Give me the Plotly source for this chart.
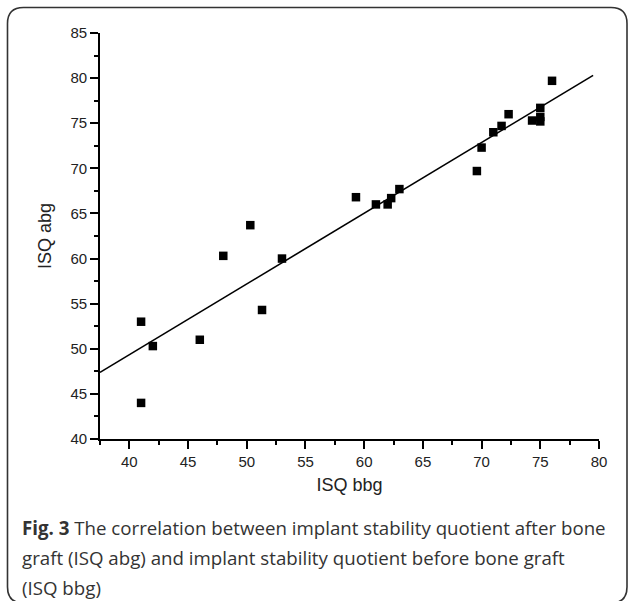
import numpy as np
import plotly.graph_objects as go

# ---- data ----
isq_bbg = [41, 41, 42, 46, 48, 50.3, 51.3, 53, 59.3, 61, 62, 62.3, 63,
           69.6, 70, 71, 71.7, 72.3, 74.3, 75, 75, 75, 76]
isq_abg = [44, 53, 50.3, 51, 60.3, 63.7, 54.3, 60, 66.8, 66.0, 66.0, 66.7, 67.7,
           69.7, 72.3, 74, 74.7, 76, 75.3, 75.2, 75.7, 76.7, 79.7]
fit_x_range = [37.5, 79.5]
x_ticks = [40, 45, 50, 55, 60, 65, 70, 75, 80]
y_ticks = [40, 45, 50, 55, 60, 65, 70, 75, 80, 85]
caption_lines = [
    "<b>Fig. 3</b> The correlation between implant stability quotient after bone",
    "graft (ISQ abg) and implant stability quotient before bone graft",
    "(ISQ bbg)",
]

# linear regression from the data
slope, intercept = np.polyfit(isq_bbg, isq_abg, 1)
fx = np.array(fit_x_range)
fy = intercept + slope * fx

W, H = 629, 601
L, R, T, B = 100, 30, 33, 162
pw, ph = W - L - R, H - T - B


def px_x(p):
    return (p - L) / pw


def px_y(p):
    return (H - B - p) / ph


fig = go.Figure()
fig.add_trace(go.Scatter(x=fx, y=fy, mode="lines",
                         line=dict(color="black", width=1.6),
                         showlegend=False, hoverinfo="skip"))
fig.add_trace(go.Scatter(x=isq_bbg, y=isq_abg, mode="markers",
                         marker=dict(symbol="square", size=8.5, color="black",
                                     line=dict(width=0)),
                         showlegend=False))

tickfont = dict(family="Liberation Sans, Arial, sans-serif", size=15, color="#222")
axis_common = dict(showgrid=False, zeroline=False, showline=True,
                   linecolor="black", linewidth=1.6, ticks="outside",
                   ticklen=8, tickwidth=1.5, tickcolor="black",
                   tickfont=tickfont, mirror=False)

fig.update_xaxes(range=[37.5, 80], tickvals=x_ticks, **axis_common,
                 minor=dict(ticks="outside", ticklen=4, tickwidth=1.5,
                            tickcolor="black", dtick=2.5, tick0=0),
                 title=dict(text="ISQ bbg",
                            font=dict(family="Liberation Sans, Arial, sans-serif",
                                      size=18, color="#222"),
                            standoff=10))
fig.update_yaxes(range=[40, 85], tickvals=y_ticks, **axis_common,
                 minor=dict(ticks="outside", ticklen=4, tickwidth=1.5,
                            tickcolor="black", dtick=2.5, tick0=0),
                 title=dict(text="ISQ abg",
                            font=dict(family="Liberation Sans, Arial, sans-serif",
                                      size=18, color="#222"),
                            standoff=14))

# rounded outer frame
x0, x1 = px_x(7.5), px_x(627)
y0, y1 = px_y(603), px_y(7.5)
rx, ry = 16 / pw, 16 / ph
path = (f"M {x0+rx},{y1} L {x1-rx},{y1} Q {x1},{y1} {x1},{y1-ry} "
        f"L {x1},{y0+ry} Q {x1},{y0} {x1-rx},{y0} "
        f"L {x0+rx},{y0} Q {x0},{y0} {x0},{y0+ry} "
        f"L {x0},{y1-ry} Q {x0},{y1} {x0+rx},{y1} Z")
fig.add_shape(type="path", path=path, xref="paper", yref="paper",
              line=dict(color="#333", width=1.6), fillcolor="rgba(0,0,0,0)",
              layer="below")

cap_y = [527, 557, 587]
for txt, yy in zip(caption_lines, cap_y):
    fig.add_annotation(text=txt, xref="paper", yref="paper",
                       x=px_x(20), y=px_y(yy), xanchor="left", yanchor="middle",
                       showarrow=False, align="left",
                       font=dict(family="Open Sans, Noto Sans, sans-serif",
                                 size=18.7, color="#333"))

fig.update_layout(width=W, height=H, autosize=False,
                  margin=dict(l=L, r=R, t=T, b=B, pad=0),
                  plot_bgcolor="white", paper_bgcolor="white",
                  showlegend=False)

fig.write_html("out.html")
